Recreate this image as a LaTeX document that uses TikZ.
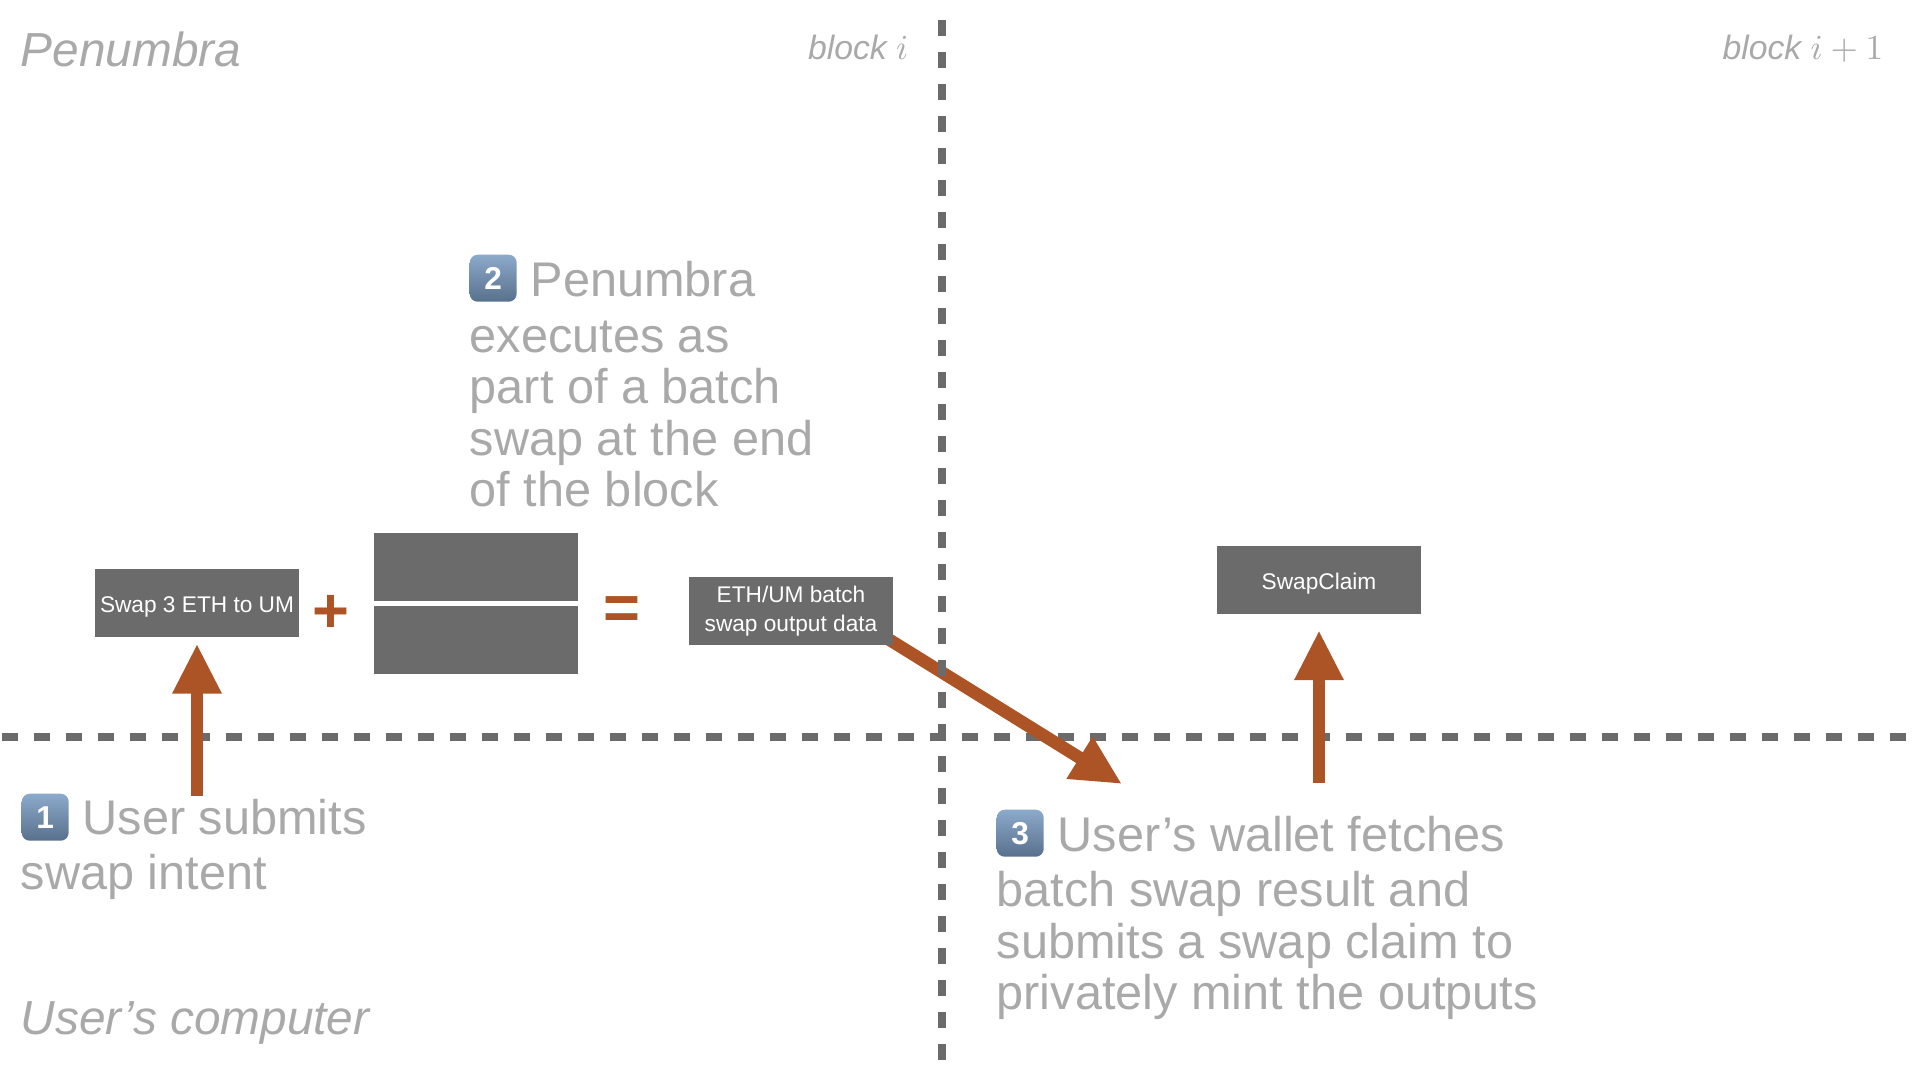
\documentclass[tikz,border=0pt]{standalone}
\usepackage{fontspec}
\setmainfont{Liberation Sans}
\usetikzlibrary{arrows.meta,positioning,backgrounds}
\definecolor{mBox}{RGB}{107,107,107}
\definecolor{mRust}{RGB}{172,84,38}
\definecolor{mCaption}{RGB}{169,169,169}
\definecolor{mBadgeTop}{RGB}{140,170,203}
\definecolor{mBadgeBot}{RGB}{88,112,140}
\tikzset{
  boundary/.style={draw=mBox, line width=0.8mm, dash pattern=on 1.6mm off 1.6mm},
  msgbox/.style={fill=mBox, minimum width=20.4mm, minimum height=6.8mm, inner sep=0pt,
    align=center, text=white, font=\fontsize{6.45}{8.1}\selectfont,
    execute at begin node={\rule{0pt}{2.3mm}}},
  flow/.style={draw=mRust, line width=1.25mm, -{Triangle[length=5mm,width=4.6mm]}},
  caption/.style={anchor=base west, inner sep=0pt, align=left, text=mCaption,
    font=\fontsize{13.85}{14.65}\selectfont},
  title/.style={anchor=base west, inner sep=0pt, text=mCaption,
    font=\fontsize{13.6}{16}\selectfont\itshape},
  blocklabel/.style={anchor=base east, inner sep=0pt, text=mCaption,
    font=\fontsize{9.6}{11}\selectfont\itshape},
  sign/.style={inner sep=0pt, text=mRust, font=\fontsize{18}{20}\selectfont\bfseries},
  badge/.style={anchor=north west, minimum size=4.7mm, inner sep=0pt, rounded corners=0.8mm,
    top color=mBadgeTop, bottom color=mBadgeBot, text=white,
    font=\fontsize{9}{10}\selectfont\bfseries},
}
\begin{document}
\begin{tikzpicture}[x=0.1mm, y=-0.1mm]
  \useasboundingbox (0,0) rectangle (1920,1080);
  % boxes on the chain
  \node[msgbox] (intent) at (197,603) {Swap 3 ETH to UM};
  \node[msgbox] (batchtop) at (476,567) {};
  \node[msgbox] (batchbot) at (476,640) {};
  \node[msgbox] (output) at (791,611) {ETH/UM batch\\swap output data};
  \node[msgbox] (claim) at (1319,580) {SwapClaim};
  \node[sign] (plus) at (331,613.5) {+};
  \node[sign] (equals) at (622,613.5) {=};
  % free ends of the arrows
  \coordinate (intentfoot) at (197,796);
  \coordinate (claimfoot) at (1319,783);
  \coordinate (fetchtail) at (885,637);
  \coordinate (fetchtip) at (1122,784);
  % chain / user boundary, with the fetch arrow over it and under the box
  \begin{scope}[on background layer]
    \draw[boundary] (2,737) -- (1910,737);
    \draw[flow] (fetchtail) -- (fetchtip);
  \end{scope}
  \draw[flow, shorten >=0.6mm] (intentfoot) -- (intent.south);
  \draw[flow, shorten >=1.55mm] (claimfoot) -- (claim.south);
  % block boundary goes over the arrows
  \draw[boundary] (942,20) -- (942,1062);
  % numbered badges
  \foreach \n/\x/\y in {1/21/793, 2/469/254, 3/996/809} {
    \node[badge] (badge\n) at (\x,\y) {\n};
  }
  % captions
  \node[caption] (stepone) at (82,834) {User submits};
  \node[caption] (steponemore) at (20,889.5) {swap intent};
  \node[caption] (steptwo) at (530,296) {Penumbra};
  \node[caption] (steptwomore) at (469,506.5) {executes as\\part of a batch\\swap at the end\\of the block};
  \node[caption] (stepthree) at (1057,851) {User’s wallet fetches};
  \node[caption] (stepthreemore) at (996,1009.5) {batch swap result and\\submits a swap claim to\\privately mint the outputs};
  % corner titles
  \node[title] (chain) at (20,66) {Penumbra};
  \node[title] (user) at (20,1034) {User’s computer};
  \node[blocklabel] (blocki) at (909,59) {block $i$};
  \node[blocklabel] (blocknext) at (1884,59) {block $i+1$};
\end{tikzpicture}
\end{document}
